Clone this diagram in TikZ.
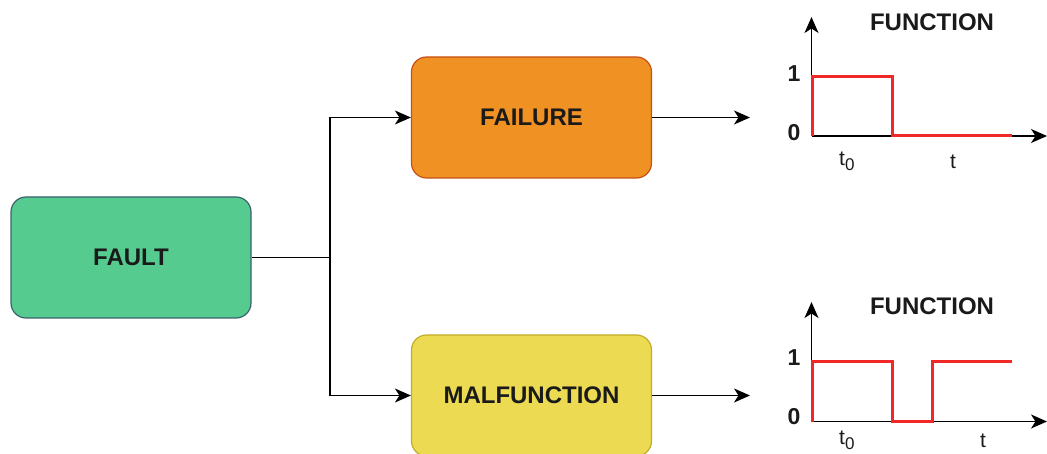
\documentclass[tikz,border=0pt]{standalone}
\usepackage{fontspec}
\setmainfont{Liberation Sans}
\usetikzlibrary{arrows.meta}
\definecolor{faultfill}{RGB}{86,203,144}
\definecolor{faultdraw}{RGB}{58,98,110}
\definecolor{failfill}{RGB}{239,145,35}
\definecolor{faildraw}{RGB}{200,80,20}
\definecolor{malfill}{RGB}{236,218,82}
\definecolor{maldraw}{RGB}{196,172,40}
\definecolor{txt}{RGB}{26,26,26}
\definecolor{sigred}{RGB}{240,40,40}
\newcommand{\subz}{\raisebox{-5pt}{\fontsize{17}{17}\selectfont 0}}
\tikzset{
  box/.style={rounded corners=15pt, minimum width=240pt, minimum height=121pt, line width=1.2pt, inner sep=0pt, font=\fontsize{24}{28}\selectfont\bfseries, text=txt},
  conn/.style={line width=1.4pt, black},
  tip/.style={-{Stealth[length=16pt,width=14pt,inset=4.5pt]}},
  arr/.style={conn, tip},
  axis/.style={line width=1.4pt, black, tip},
  sig/.style={line width=3pt, sigred, line join=miter},
  num/.style={font=\fontsize{23}{26}\selectfont\bfseries, text=txt, inner sep=0pt},
  lbl/.style={font=\fontsize{21}{24}\selectfont, text=txt, inner sep=0pt},
  ttl/.style={font=\fontsize{24}{28}\selectfont\bfseries, text=txt, inner sep=0pt}
}
\begin{document}
\begin{tikzpicture}[x=1pt,y=-1pt]
\useasboundingbox (0,0) rectangle (1047,454);
\node[box, fill=faultfill, draw=faultdraw] (fault) at (131,257.5) {FAULT};
\node[box, fill=failfill, draw=faildraw] (fail) at (531.5,117.5) {FAILURE};
\node[box, fill=malfill, draw=maldraw] (mal) at (531.5,395.5) {MALFUNCTION};
\coordinate (split) at (330,257.5);
\draw[conn] (fault.east) -- (split);
\draw[arr] (split) |- (fail.west);
\draw[arr] (split) |- (mal.west);
\coordinate (fend) at (750,117.5);
\coordinate (mend) at (750,395.5);
\draw[arr] (fail.east) -- (fend);
\draw[arr] (mal.east) -- (mend);
% graph 1
\coordinate (o1) at (811.5,136);
\coordinate (y1) at (811.5,17);
\coordinate (x1) at (1047,136);
\draw[axis] (o1) -- (y1);
\draw[axis] (o1) -- (x1);
\draw[sig] (812,136) -- (812,77) -- (892,77) -- (892,136) -- (1012,136);
\node[num] (one1) at (794,74) {1};
\node[num] (zero1) at (794,133) {0};
\node[lbl, anchor=west] (tz1) at (839,161) {t\subz};
\node[lbl] (t1) at (953,162) {t};
\node[ttl] (f1) at (932,22) {FUNCTION};
% graph 2
\coordinate (o2) at (811.5,421.5);
\coordinate (y2) at (811.5,302);
\coordinate (x2) at (1047,421.5);
\draw[axis] (o2) -- (y2);
\draw[axis] (o2) -- (x2);
\draw[sig] (812,421.5) -- (812,361) -- (892,361) -- (892,421.5) -- (932,421.5) -- (932,361) -- (1012,361);
\node[num] (one2) at (794,358) {1};
\node[num] (zero2) at (794,417) {0};
\node[lbl, anchor=west] (tz2) at (839,440) {t\subz};
\node[lbl] (t2) at (983,441) {t};
\node[ttl] (f2) at (932,306) {FUNCTION};
\end{tikzpicture}
\end{document}
